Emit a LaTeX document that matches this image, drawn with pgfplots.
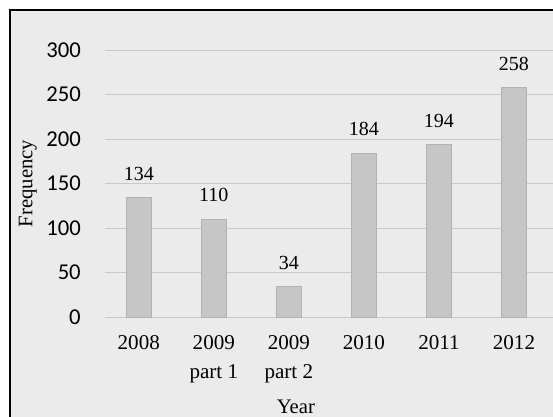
\documentclass[border=0pt]{standalone}
\usepackage{pgfplots}
\pgfplotsset{compat=1.18}
\usepackage{fontspec}
\setmainfont{Liberation Serif}
\newfontfamily\carlito{Carlito}
\definecolor{bg}{HTML}{EBEBEB}
\definecolor{barfill}{HTML}{C6C6C6}
\definecolor{baredge}{HTML}{B2B2B2}
\definecolor{gridc}{HTML}{C8C8C8}
\begin{document}
\begin{tikzpicture}
\path[use as bounding box] (0,0) rectangle (414.75pt,312.75pt);
\fill[white] (0,0) rectangle (414.75pt,312.75pt);
\fill[bg] (7.5pt,0) rectangle (414.75pt,305.25pt);
\begin{axis}[
  at={(78.75pt,75pt)}, anchor=south west,
  scale only axis, width=336pt, height=200.25pt,
  xmin=-0.45, xmax=5.52, ymin=0, ymax=300,
  clip=false,
  axis line style={draw=none},
  major tick style={draw=none},
  ymajorgrids, grid style={gridc, line width=0.7pt},
  ytick={0,50,100,150,200,250,300},
  yticklabels={0,50,100,150,200,250,300},
  yticklabel style={font=\carlito\fontsize{17}{20}\selectfont, anchor=east, inner sep=0pt, xshift=-18pt},
  xtick={0,1,2,3,4,5},
  xticklabels={2008,{2009\\part 1},{2009\\part 2},2010,2011,2012},
  xticklabel style={font=\fontsize{15.8}{21.5}\selectfont, align=center, anchor=north, inner sep=0pt, yshift=-14pt},
  ylabel={Frequency},
  ylabel style={at={(axis description cs:-0.172,0.5)}, anchor=center, font=\fontsize{15.5}{18}\selectfont},
  xlabel={Year},
  xlabel style={at={(axis description cs:0.426,-0.337)}, anchor=center, font=\fontsize{15.5}{18}\selectfont},
  /pgf/number format/assume math mode=true,
  nodes near coords,
  nodes near coords style={font=\fontsize{15}{17}\selectfont, anchor=south, inner sep=0pt, yshift=12.5pt},
]
\addplot[ybar, bar width=18.75pt, fill=barfill, draw=baredge, line width=0.6pt]
  coordinates {(0,134) (1,110) (2,34) (3,184) (4,194) (5,258)};
\end{axis}
\draw[line width=1.6pt, black] (7.5pt,0) -- (7.5pt,305.25pt) -- (414.75pt,305.25pt);
\end{tikzpicture}
\end{document}
